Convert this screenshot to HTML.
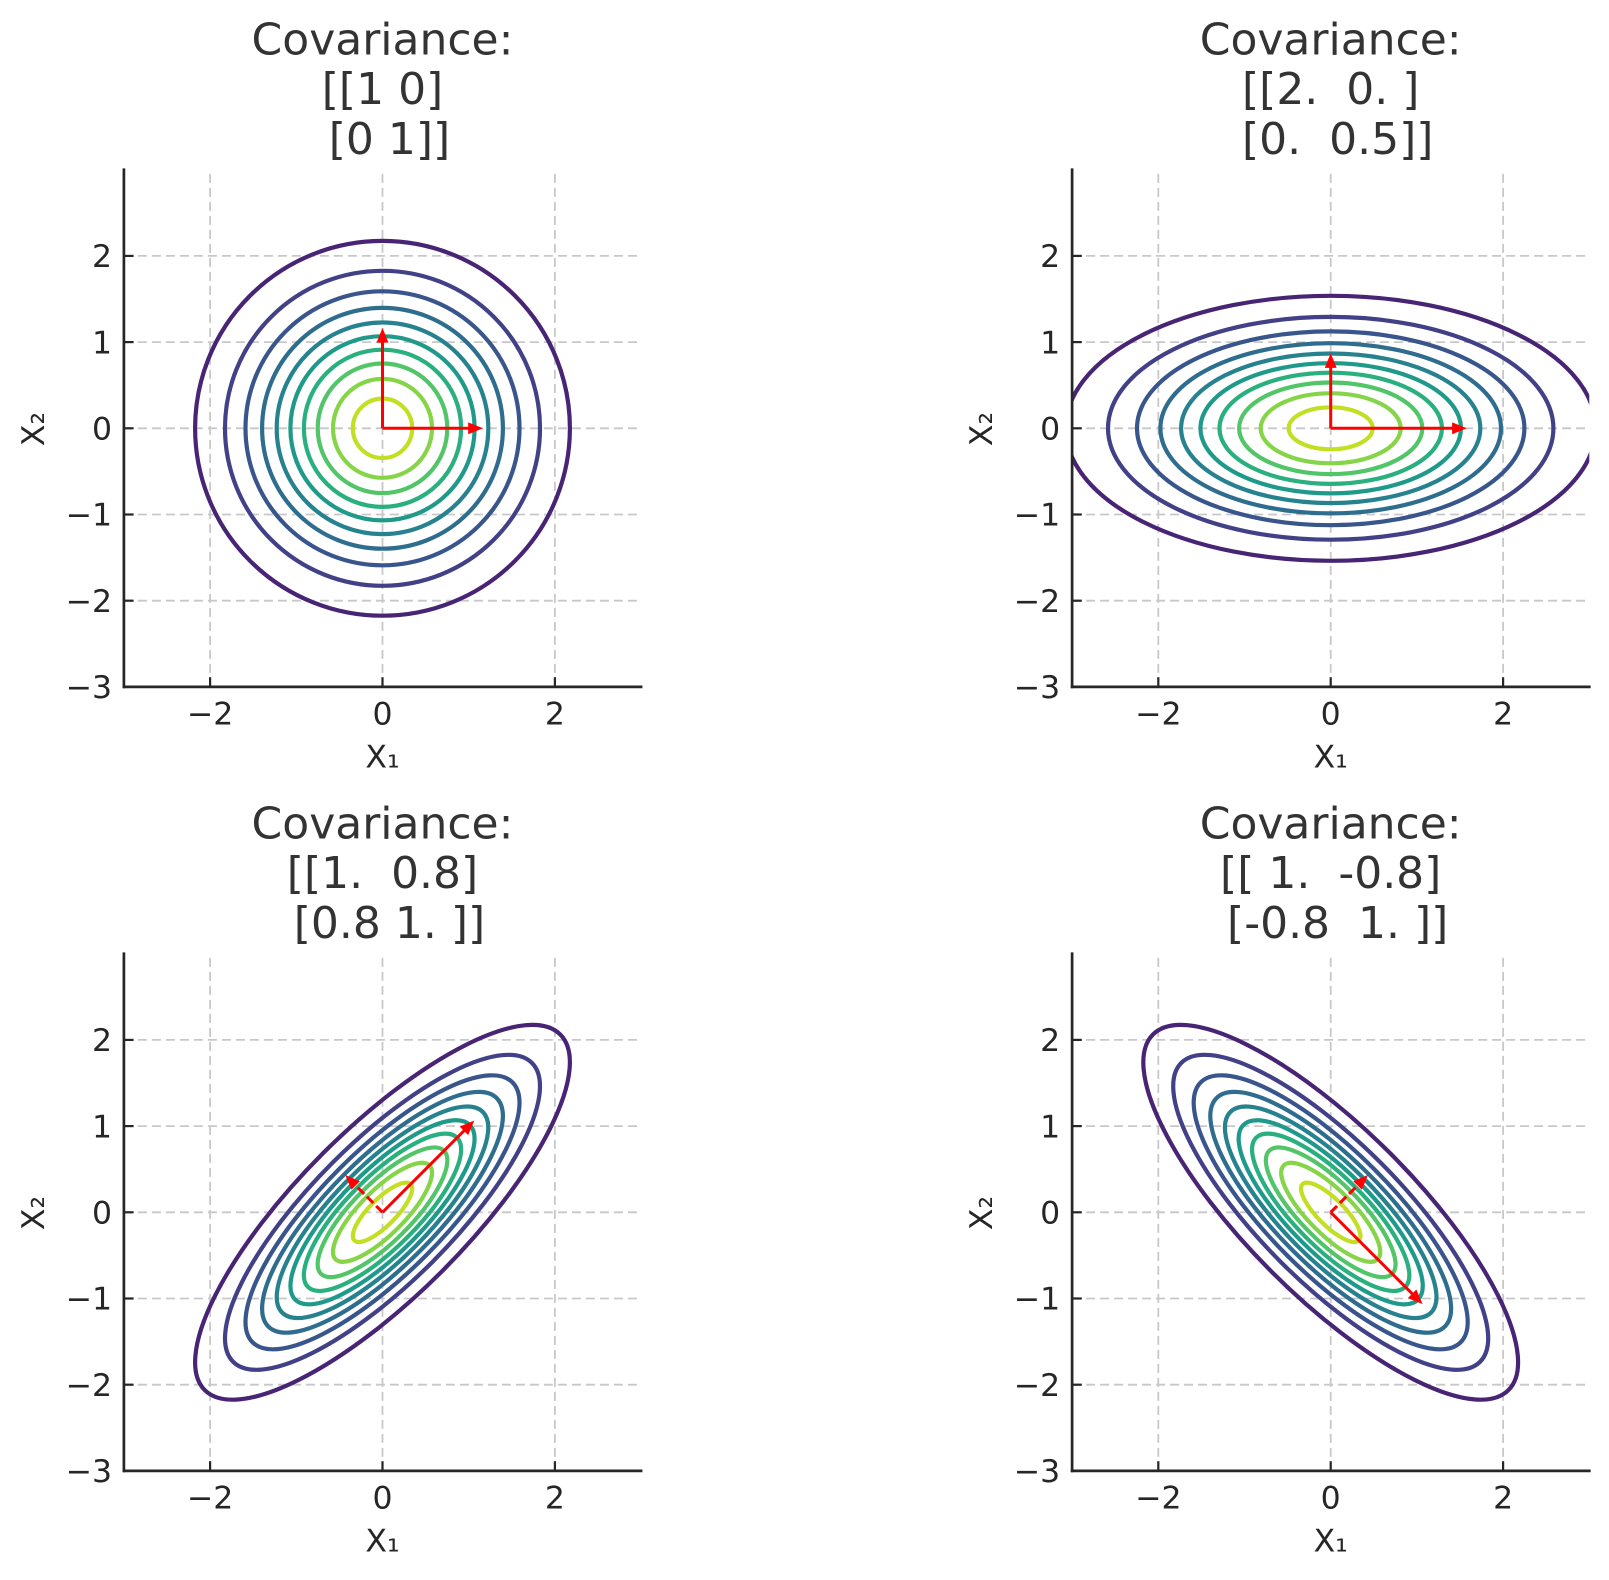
<!DOCTYPE html>
<html>
<head>
<meta charset="utf-8">
<style>
  html, body { margin:0; padding:0; background:#ffffff; }
  svg { display:block; }
  text { font-family: "DejaVu Sans", "Liberation Sans", sans-serif; }
  .tt { font-size:44px; fill:#333333; white-space:pre; }
  .tk { font-size:31.5px; fill:#262626; }
  .lb { font-size:31.5px; fill:#262626; }
  .grid line { stroke:#c8c8c8; stroke-width:1.8; stroke-dasharray:9 5; fill:none; }
  .spine { stroke:#262626; stroke-width:2.7; fill:none; stroke-linecap:square; }
  .tick { stroke:#262626; stroke-width:2.2; }
  .c ellipse, .c circle { fill:none; stroke-width:4.2; }
  .arr line { stroke:#ff0000; stroke-width:3; }
  .arr polygon { fill:#ff0000; stroke:#ff0000; stroke-width:1; }
</style>
</head>
<body>
<svg width="1609" height="1580" viewBox="0 0 1609 1580" xmlns="http://www.w3.org/2000/svg">
  <rect x="0" y="0" width="1609" height="1580" fill="#ffffff"/>
  <defs>
    <clipPath id="cTL"><rect x="123.9" y="169.7" width="517.2" height="517.2"/></clipPath>
    <clipPath id="cTR"><rect x="1072.1" y="169.7" width="517.2" height="517.2"/></clipPath>
    <clipPath id="cBL"><rect x="123.9" y="953.7" width="517.2" height="517.2"/></clipPath>
    <clipPath id="cBR"><rect x="1072.1" y="953.7" width="517.2" height="517.2"/></clipPath>
  </defs>

  <!-- ================= TOP LEFT ================= -->
  <g class="grid">
    <line x1="210.1" y1="686.9" x2="210.1" y2="169.7"/>
    <line x1="382.5" y1="686.9" x2="382.5" y2="169.7"/>
    <line x1="554.9" y1="686.9" x2="554.9" y2="169.7"/>
    <line x1="123.9" y1="600.7" x2="641.1" y2="600.7"/>
    <line x1="123.9" y1="514.5" x2="641.1" y2="514.5"/>
    <line x1="123.9" y1="428.3" x2="641.1" y2="428.3"/>
    <line x1="123.9" y1="342.1" x2="641.1" y2="342.1"/>
    <line x1="123.9" y1="255.9" x2="641.1" y2="255.9"/>
  </g>
  <g clip-path="url(#cTL)">
    <g class="c" transform="translate(382.5,428.3)">
      <circle r="187.4" stroke="#482475"/>
      <circle r="157.5" stroke="#424086"/>
      <circle r="137.0" stroke="#39568c"/>
      <circle r="120.4" stroke="#2e6d8e"/>
      <circle r="105.8" stroke="#26828e"/>
      <circle r="92.1" stroke="#1f9a8a"/>
      <circle r="78.6" stroke="#2ab07f"/>
      <circle r="64.8" stroke="#52c569"/>
      <circle r="49.5" stroke="#86d549"/>
      <circle r="29.7" stroke="#c2df23"/>
    </g>
  </g>
  <g class="arr">
    <line x1="382.5" y1="428.3" x2="468.7" y2="428.3"/>
    <polygon points="468.7,423.1 481.6,428.3 468.7,433.5"/>
    <line x1="382.5" y1="428.3" x2="382.5" y2="342.1"/>
    <polygon points="377.3,342.1 382.5,329.2 387.7,342.1"/>
  </g>
  <g>
    <line class="tick" x1="210.1" y1="686.9" x2="210.1" y2="677.2"/>
    <line class="tick" x1="382.5" y1="686.9" x2="382.5" y2="677.2"/>
    <line class="tick" x1="554.9" y1="686.9" x2="554.9" y2="677.2"/>
    <line class="tick" x1="123.9" y1="686.9" x2="133.6" y2="686.9"/>
    <line class="tick" x1="123.9" y1="600.7" x2="133.6" y2="600.7"/>
    <line class="tick" x1="123.9" y1="514.5" x2="133.6" y2="514.5"/>
    <line class="tick" x1="123.9" y1="428.3" x2="133.6" y2="428.3"/>
    <line class="tick" x1="123.9" y1="342.1" x2="133.6" y2="342.1"/>
    <line class="tick" x1="123.9" y1="255.9" x2="133.6" y2="255.9"/>
    <line class="spine" x1="123.9" y1="169.7" x2="123.9" y2="686.9"/>
    <line class="spine" x1="123.9" y1="686.9" x2="641.1" y2="686.9"/>
  </g>
  <g class="tk" text-anchor="middle">
    <text x="210.1" y="724.5">−2</text>
    <text x="382.5" y="724.5">0</text>
    <text x="554.9" y="724.5">2</text>
  </g>
  <g class="tk" text-anchor="end">
    <text x="112" y="698.1">−3</text>
    <text x="112" y="611.9">−2</text>
    <text x="112" y="525.7">−1</text>
    <text x="112" y="439.5">0</text>
    <text x="112" y="353.3">1</text>
    <text x="112" y="267.1">2</text>
  </g>
  <text class="lb" x="382.5" y="767.3" text-anchor="middle">X₁</text>
  <text class="lb" text-anchor="middle" transform="translate(44,429) rotate(-90)">X₂</text>
  <g class="tt" text-anchor="middle">
    <text x="382.5" y="54.3">Covariance:</text>
    <text x="382.5" y="104.2">[[1 0]</text>
    <text x="382.5" y="154">&#160;[0 1]]</text>
  </g>

  <!-- ================= TOP RIGHT ================= -->
  <g class="grid">
    <line x1="1158.3" y1="686.9" x2="1158.3" y2="169.7"/>
    <line x1="1330.7" y1="686.9" x2="1330.7" y2="169.7"/>
    <line x1="1503.1" y1="686.9" x2="1503.1" y2="169.7"/>
    <line x1="1072.1" y1="600.7" x2="1589.3" y2="600.7"/>
    <line x1="1072.1" y1="514.5" x2="1589.3" y2="514.5"/>
    <line x1="1072.1" y1="428.3" x2="1589.3" y2="428.3"/>
    <line x1="1072.1" y1="342.1" x2="1589.3" y2="342.1"/>
    <line x1="1072.1" y1="255.9" x2="1589.3" y2="255.9"/>
  </g>
  <g clip-path="url(#cTR)">
    <g class="c" transform="translate(1330.7,428.3)">
      <ellipse rx="265.0" ry="132.5" stroke="#482475"/>
      <ellipse rx="222.7" ry="111.4" stroke="#424086"/>
      <ellipse rx="193.7" ry="96.9" stroke="#39568c"/>
      <ellipse rx="170.3" ry="85.1" stroke="#2e6d8e"/>
      <ellipse rx="149.6" ry="74.8" stroke="#26828e"/>
      <ellipse rx="130.2" ry="65.1" stroke="#1f9a8a"/>
      <ellipse rx="111.2" ry="55.6" stroke="#2ab07f"/>
      <ellipse rx="91.6" ry="45.8" stroke="#52c569"/>
      <ellipse rx="70.0" ry="35.0" stroke="#86d549"/>
      <ellipse rx="42.0" ry="21.0" stroke="#c2df23"/>
    </g>
  </g>
  <g class="arr">
    <line x1="1330.7" y1="428.3" x2="1452.6" y2="428.3"/>
    <polygon points="1452.6,423.1 1465.5,428.3 1452.6,433.5"/>
    <line x1="1330.7" y1="428.3" x2="1330.7" y2="367.4"/>
    <polygon points="1325.5,367.4 1330.7,354.5 1335.9,367.4"/>
  </g>
  <g>
    <line class="tick" x1="1158.3" y1="686.9" x2="1158.3" y2="677.2"/>
    <line class="tick" x1="1330.7" y1="686.9" x2="1330.7" y2="677.2"/>
    <line class="tick" x1="1503.1" y1="686.9" x2="1503.1" y2="677.2"/>
    <line class="tick" x1="1072.1" y1="686.9" x2="1081.8" y2="686.9"/>
    <line class="tick" x1="1072.1" y1="600.7" x2="1081.8" y2="600.7"/>
    <line class="tick" x1="1072.1" y1="514.5" x2="1081.8" y2="514.5"/>
    <line class="tick" x1="1072.1" y1="428.3" x2="1081.8" y2="428.3"/>
    <line class="tick" x1="1072.1" y1="342.1" x2="1081.8" y2="342.1"/>
    <line class="tick" x1="1072.1" y1="255.9" x2="1081.8" y2="255.9"/>
    <line class="spine" x1="1072.1" y1="169.7" x2="1072.1" y2="686.9"/>
    <line class="spine" x1="1072.1" y1="686.9" x2="1589.3" y2="686.9"/>
  </g>
  <g class="tk" text-anchor="middle">
    <text x="1158.3" y="724.5">−2</text>
    <text x="1330.7" y="724.5">0</text>
    <text x="1503.1" y="724.5">2</text>
  </g>
  <g class="tk" text-anchor="end">
    <text x="1060.2" y="698.1">−3</text>
    <text x="1060.2" y="611.9">−2</text>
    <text x="1060.2" y="525.7">−1</text>
    <text x="1060.2" y="439.5">0</text>
    <text x="1060.2" y="353.3">1</text>
    <text x="1060.2" y="267.1">2</text>
  </g>
  <text class="lb" x="1330.7" y="767.3" text-anchor="middle">X₁</text>
  <text class="lb" text-anchor="middle" transform="translate(992.2,429) rotate(-90)">X₂</text>
  <g class="tt" text-anchor="middle">
    <text x="1330.7" y="54.3">Covariance:</text>
    <text x="1330.7" y="104.2">[[2.&#160;&#160;0.&#160;]</text>
    <text x="1330.7" y="154">&#160;[0.&#160;&#160;0.5]]</text>
  </g>

  <!-- ================= BOTTOM LEFT ================= -->
  <g class="grid">
    <line x1="210.1" y1="1470.9" x2="210.1" y2="953.7"/>
    <line x1="382.5" y1="1470.9" x2="382.5" y2="953.7"/>
    <line x1="554.9" y1="1470.9" x2="554.9" y2="953.7"/>
    <line x1="123.9" y1="1384.7" x2="641.1" y2="1384.7"/>
    <line x1="123.9" y1="1298.5" x2="641.1" y2="1298.5"/>
    <line x1="123.9" y1="1212.3" x2="641.1" y2="1212.3"/>
    <line x1="123.9" y1="1126.1" x2="641.1" y2="1126.1"/>
    <line x1="123.9" y1="1039.9" x2="641.1" y2="1039.9"/>
  </g>
  <g clip-path="url(#cBL)">
    <g class="c" transform="translate(382.5,1212.3) rotate(-45)">
      <ellipse rx="251.4" ry="83.8" stroke="#482475"/>
      <ellipse rx="211.3" ry="70.4" stroke="#424086"/>
      <ellipse rx="183.8" ry="61.3" stroke="#39568c"/>
      <ellipse rx="161.5" ry="53.9" stroke="#2e6d8e"/>
      <ellipse rx="141.9" ry="47.3" stroke="#26828e"/>
      <ellipse rx="123.5" ry="41.2" stroke="#1f9a8a"/>
      <ellipse rx="105.5" ry="35.2" stroke="#2ab07f"/>
      <ellipse rx="87.0" ry="29.0" stroke="#52c569"/>
      <ellipse rx="66.4" ry="22.1" stroke="#86d549"/>
      <ellipse rx="39.8" ry="13.3" stroke="#c2df23"/>
    </g>
  </g>
  <g class="arr">
    <line x1="382.5" y1="1212.3" x2="464.3" y2="1130.5"/>
    <polygon points="468.0,1134.2 473.4,1121.4 460.6,1126.8"/>
    <line x1="382.5" y1="1212.3" x2="355.3" y2="1185.1" stroke-dasharray="9 4"/>
    <polygon points="359.0,1181.4 346.2,1176.0 351.6,1188.8"/>
  </g>
  <g>
    <line class="tick" x1="210.1" y1="1470.9" x2="210.1" y2="1461.2"/>
    <line class="tick" x1="382.5" y1="1470.9" x2="382.5" y2="1461.2"/>
    <line class="tick" x1="554.9" y1="1470.9" x2="554.9" y2="1461.2"/>
    <line class="tick" x1="123.9" y1="1470.9" x2="133.6" y2="1470.9"/>
    <line class="tick" x1="123.9" y1="1384.7" x2="133.6" y2="1384.7"/>
    <line class="tick" x1="123.9" y1="1298.5" x2="133.6" y2="1298.5"/>
    <line class="tick" x1="123.9" y1="1212.3" x2="133.6" y2="1212.3"/>
    <line class="tick" x1="123.9" y1="1126.1" x2="133.6" y2="1126.1"/>
    <line class="tick" x1="123.9" y1="1039.9" x2="133.6" y2="1039.9"/>
    <line class="spine" x1="123.9" y1="953.7" x2="123.9" y2="1470.9"/>
    <line class="spine" x1="123.9" y1="1470.9" x2="641.1" y2="1470.9"/>
  </g>
  <g class="tk" text-anchor="middle">
    <text x="210.1" y="1508.5">−2</text>
    <text x="382.5" y="1508.5">0</text>
    <text x="554.9" y="1508.5">2</text>
  </g>
  <g class="tk" text-anchor="end">
    <text x="112" y="1482.1">−3</text>
    <text x="112" y="1395.9">−2</text>
    <text x="112" y="1309.7">−1</text>
    <text x="112" y="1223.5">0</text>
    <text x="112" y="1137.3">1</text>
    <text x="112" y="1051.1">2</text>
  </g>
  <text class="lb" x="382.5" y="1551.3" text-anchor="middle">X₁</text>
  <text class="lb" text-anchor="middle" transform="translate(44,1213) rotate(-90)">X₂</text>
  <g class="tt" text-anchor="middle">
    <text x="382.5" y="838.3">Covariance:</text>
    <text x="382.5" y="888.2">[[1.&#160;&#160;0.8]</text>
    <text x="382.5" y="938">&#160;[0.8 1.&#160;]]</text>
  </g>

  <!-- ================= BOTTOM RIGHT ================= -->
  <g class="grid">
    <line x1="1158.3" y1="1470.9" x2="1158.3" y2="953.7"/>
    <line x1="1330.7" y1="1470.9" x2="1330.7" y2="953.7"/>
    <line x1="1503.1" y1="1470.9" x2="1503.1" y2="953.7"/>
    <line x1="1072.1" y1="1384.7" x2="1589.3" y2="1384.7"/>
    <line x1="1072.1" y1="1298.5" x2="1589.3" y2="1298.5"/>
    <line x1="1072.1" y1="1212.3" x2="1589.3" y2="1212.3"/>
    <line x1="1072.1" y1="1126.1" x2="1589.3" y2="1126.1"/>
    <line x1="1072.1" y1="1039.9" x2="1589.3" y2="1039.9"/>
  </g>
  <g clip-path="url(#cBR)">
    <g class="c" transform="translate(1330.7,1212.3) rotate(45)">
      <ellipse rx="251.4" ry="83.8" stroke="#482475"/>
      <ellipse rx="211.3" ry="70.4" stroke="#424086"/>
      <ellipse rx="183.8" ry="61.3" stroke="#39568c"/>
      <ellipse rx="161.5" ry="53.9" stroke="#2e6d8e"/>
      <ellipse rx="141.9" ry="47.3" stroke="#26828e"/>
      <ellipse rx="123.5" ry="41.2" stroke="#1f9a8a"/>
      <ellipse rx="105.5" ry="35.2" stroke="#2ab07f"/>
      <ellipse rx="87.0" ry="29.0" stroke="#52c569"/>
      <ellipse rx="66.4" ry="22.1" stroke="#86d549"/>
      <ellipse rx="39.8" ry="13.3" stroke="#c2df23"/>
    </g>
  </g>
  <g class="arr">
    <line x1="1330.7" y1="1212.3" x2="1412.5" y2="1294.1"/>
    <polygon points="1416.2,1290.4 1421.6,1303.2 1408.8,1297.8"/>
    <line x1="1330.7" y1="1212.3" x2="1357.9" y2="1185.1" stroke-dasharray="9 4"/>
    <polygon points="1361.6,1188.8 1367.0,1176.0 1354.2,1181.4"/>
  </g>
  <g>
    <line class="tick" x1="1158.3" y1="1470.9" x2="1158.3" y2="1461.2"/>
    <line class="tick" x1="1330.7" y1="1470.9" x2="1330.7" y2="1461.2"/>
    <line class="tick" x1="1503.1" y1="1470.9" x2="1503.1" y2="1461.2"/>
    <line class="tick" x1="1072.1" y1="1470.9" x2="1081.8" y2="1470.9"/>
    <line class="tick" x1="1072.1" y1="1384.7" x2="1081.8" y2="1384.7"/>
    <line class="tick" x1="1072.1" y1="1298.5" x2="1081.8" y2="1298.5"/>
    <line class="tick" x1="1072.1" y1="1212.3" x2="1081.8" y2="1212.3"/>
    <line class="tick" x1="1072.1" y1="1126.1" x2="1081.8" y2="1126.1"/>
    <line class="tick" x1="1072.1" y1="1039.9" x2="1081.8" y2="1039.9"/>
    <line class="spine" x1="1072.1" y1="953.7" x2="1072.1" y2="1470.9"/>
    <line class="spine" x1="1072.1" y1="1470.9" x2="1589.3" y2="1470.9"/>
  </g>
  <g class="tk" text-anchor="middle">
    <text x="1158.3" y="1508.5">−2</text>
    <text x="1330.7" y="1508.5">0</text>
    <text x="1503.1" y="1508.5">2</text>
  </g>
  <g class="tk" text-anchor="end">
    <text x="1060.2" y="1482.1">−3</text>
    <text x="1060.2" y="1395.9">−2</text>
    <text x="1060.2" y="1309.7">−1</text>
    <text x="1060.2" y="1223.5">0</text>
    <text x="1060.2" y="1137.3">1</text>
    <text x="1060.2" y="1051.1">2</text>
  </g>
  <text class="lb" x="1330.7" y="1551.3" text-anchor="middle">X₁</text>
  <text class="lb" text-anchor="middle" transform="translate(992.2,1213) rotate(-90)">X₂</text>
  <g class="tt" text-anchor="middle">
    <text x="1330.7" y="838.3">Covariance:</text>
    <text x="1330.7" y="888.2">[[&#160;1.&#160;&#160;-0.8]</text>
    <text x="1330.7" y="938">&#160;[-0.8&#160;&#160;1.&#160;]]</text>
  </g>
</svg>
</body>
</html>
